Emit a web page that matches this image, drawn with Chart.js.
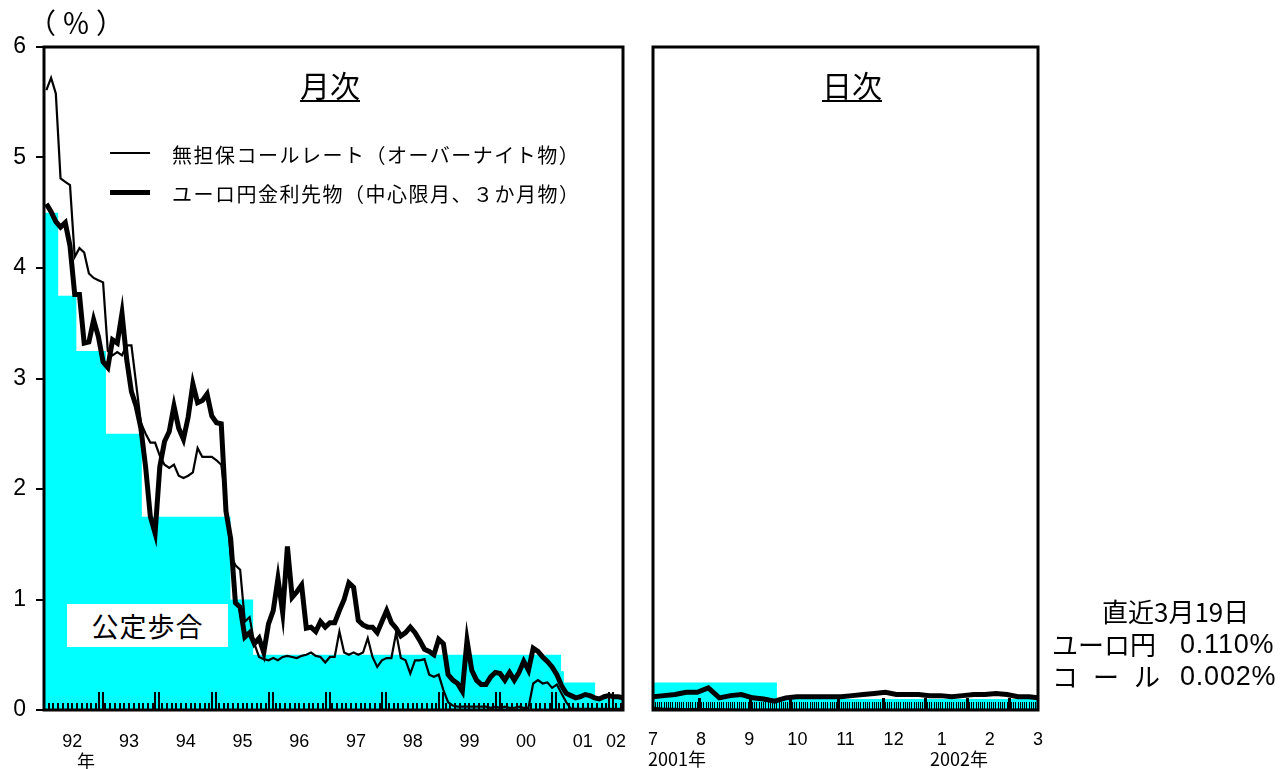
<!DOCTYPE html>
<html lang="ja">
<head>
<meta charset="utf-8">
<title>無担保コールレートとユーロ円金利先物</title>
<script src="https://cdn.jsdelivr.net/npm/chart.js@4.4.0/dist/chart.umd.min.js"></script>
<style>
  body { margin: 0; background: #fff; }
  #wrap { position: relative; width: 1282px; height: 769px; overflow: hidden; background: #fff;
          font-family: "Liberation Sans", "Noto Sans CJK JP", sans-serif; color: #000; }
  canvas { position: absolute; top: 0; }
  #monthly { left: 0; }
  #daily { left: 640px; }
  .t { position: absolute; white-space: pre; line-height: 1; transform: translateY(-50%); }
  .c { transform: translate(-50%, -50%); }
  .jp { font-family: "Noto Sans CJK JP", "Liberation Sans", sans-serif; }
  .title { font-size: 30px; text-decoration: underline; text-decoration-thickness: 2px; text-underline-offset: 3px; }
  .leg { font-size: 20px; letter-spacing: 1.5px; }
  .swatch { position: absolute; background: #000; }
  #odrBox { position: absolute; left: 67px; top: 604px; width: 161px; height: 43px; background: #fff;
            display: flex; align-items: center; justify-content: center; font-size: 27px; letter-spacing: 1px; }
  .note { font-size: 26px; }
  .num { font-size: 27px; letter-spacing: 0.8px; }
</style>
</head>
<body>
<div id="wrap">
  <canvas id="monthly" width="640" height="769"></canvas>
  <canvas id="daily" width="642" height="769"></canvas>

  <div class="t c jp" style="left:79px; top:22px; font-size:28px; letter-spacing:6px;">（％）</div>
  <div class="t c jp title" style="left:330px; top:84px;">月次</div>
  <div class="t c jp title" style="left:852px; top:84px;">日次</div>

  <div class="swatch" style="left:110px; top:152px; width:40px; height:2px;"></div>
  <div class="t jp leg" style="left:172px; top:155px;">無担保コールレート（オーバーナイト物）</div>
  <div class="swatch" style="left:110px; top:190px; width:40px; height:5px;"></div>
  <div class="t jp leg" style="left:172px; top:194px;">ユーロ円金利先物（中心限月、３か月物）</div>

  <div id="odrBox" class="jp">公定歩合</div>

  <div class="t c jp" style="left:86px; top:760px; font-size:18px;">年</div>
  <div class="t c jp" style="left:677px; top:758px; font-size:18px;">2001年</div>
  <div class="t c jp" style="left:959px; top:758px; font-size:18px;">2002年</div>

  <div class="t jp note" style="left:1102px; top:611px;">直近3月19日</div>
  <div class="t jp note" style="left:1052px; top:644px;">ユーロ円</div>
  <div class="t num" style="left:1180px; top:644px;">0.110%</div>
  <div class="t jp note" style="left:1052px; top:676px; letter-spacing:15px;">コール</div>
  <div class="t num" style="left:1180px; top:676px;">0.002%</div>
</div>

<script>
// monthly series, Jan 1992 .. Mar 2002 (one value per month)
const callMonthly = [
  5.61, 5.72, 5.58, 4.81, 4.78, 4.75, 4.10, 4.18, 4.14, 3.95, 3.91, 3.89,
  3.87, 3.25, 3.21, 3.24, 3.21, 3.30, 3.30, 2.95, 2.60, 2.50, 2.42, 2.42,
  2.30, 2.22, 2.19, 2.22, 2.12, 2.10, 2.12, 2.15, 2.37, 2.29, 2.29, 2.29,
  2.26, 2.22, 1.90, 1.40, 1.31, 1.27, 0.80, 0.84, 0.60, 0.48, 0.46, 0.45,
  0.47, 0.45, 0.48, 0.49, 0.48, 0.47, 0.49, 0.50, 0.52, 0.49, 0.48, 0.43,
  0.48, 0.48, 0.71, 0.52, 0.50, 0.52, 0.50, 0.52, 0.65, 0.48, 0.39, 0.45,
  0.47, 0.47, 0.70, 0.47, 0.45, 0.33, 0.45, 0.45, 0.46, 0.32, 0.30, 0.32,
  0.18, 0.07, 0.04, 0.03, 0.03, 0.03, 0.03, 0.03, 0.03, 0.03, 0.02, 0.03,
  0.02, 0.03, 0.02, 0.02, 0.03, 0.02, 0.02, 0.24, 0.27, 0.24, 0.25, 0.20,
  0.23, 0.15, 0.07, 0.01, 0.01, 0.01, 0.01, 0.01, 0.01, 0.01, 0.01, 0.01,
  0.01, 0.01, 0.01
];
const euroyenMonthly = [
  4.58, 4.51, 4.42, 4.37, 4.41, 4.20, 3.76, 3.76, 3.32, 3.33, 3.53, 3.38,
  3.15, 3.10, 3.35, 3.32, 3.59, 3.17, 2.88, 2.75, 2.55, 2.20, 1.75, 1.60,
  2.20, 2.43, 2.52, 2.75, 2.55, 2.45, 2.65, 2.95, 2.78, 2.80, 2.86, 2.66,
  2.60, 2.59, 1.80, 1.55, 0.97, 0.93, 0.66, 0.70, 0.60, 0.65, 0.52, 0.78,
  0.90, 1.19, 0.88, 1.48, 1.02, 1.07, 1.13, 0.74, 0.75, 0.71, 0.80, 0.75,
  0.79, 0.79, 0.90, 1.00, 1.15, 1.11, 0.81, 0.77, 0.75, 0.75, 0.70, 0.80,
  0.90, 0.79, 0.74, 0.67, 0.70, 0.75, 0.70, 0.63, 0.55, 0.53, 0.50, 0.64,
  0.60, 0.32, 0.27, 0.24, 0.17, 0.63, 0.36, 0.27, 0.23, 0.23, 0.30, 0.34,
  0.33, 0.27, 0.34, 0.27, 0.34, 0.44, 0.36, 0.56, 0.53, 0.48, 0.44, 0.39,
  0.32, 0.22, 0.15, 0.13, 0.11, 0.12, 0.14, 0.13, 0.11, 0.10, 0.12, 0.13,
  0.12, 0.12, 0.11
];
// official discount rate steps (month position where each rate starts)
const odrMonthPos   = [0,   3.0,  6.85, 13.1, 20.7, 39.45, 44.25, 109.4, 110.0, 116.6, 122.5];
const odrMonthRates = [4.5, 3.75, 3.25, 2.5,  1.75, 1.0,   0.5,   0.35,  0.25,  0.1,   0.1];
const yearLabels   = ['92','93','94','95','96','97','98','99','00','01','02'];
const yearLabelPos = [6, 18, 30, 42, 54, 66, 78, 90, 102, 114, 121];

// daily series, Jul 2001 .. Mar 19 2002, x = business day count
const bizDaysPerMonth = [21, 23, 18, 22, 20, 19, 19, 19, 13];
const monthLabels = ['7','8','9','10','11','12','1','2','3'];
const dailyPos = [0,5,10,15,20,25,30,35,40,45,50,55,60,65,70,75,80,85,90,95,100,105,110,115,120,125,130,135,140,145,150,155,160,165,170,174];
const euroyenDaily = [0.12,0.13,0.14,0.16,0.16,0.20,0.11,0.13,0.14,0.11,0.10,0.08,0.11,0.12,0.12,0.12,0.12,0.12,0.13,0.14,
                      0.15,0.16,0.14,0.14,0.14,0.13,0.13,0.12,0.13,0.14,0.14,0.15,0.14,0.12,0.12,0.11];
const callDaily = [0.02,0.01,0.01,0.005,0.01,0.005,0.005,0.003,0.002,0.002,0.002,0.002,0.002,0.002,0.002,0.002,0.002,0.002,0.002,0.002,
                   0.002,0.002,0.002,0.002,0.002,0.002,0.002,0.002,0.002,0.002,0.002,0.002,0.002,0.002,0.002,0.002];
const odrDayPos   = [0,    56,  174];
const odrDayRates = [0.25, 0.1, 0.1];

Chart.defaults.font.family = '"Liberation Sans", Arial, sans-serif';
Chart.defaults.color = '#000';

const pts = (xs, ys) => xs.map((x, i) => ({ x: x, y: ys[i] }));
const monthPos = callMonthly.map((v, i) => i + 0.5);

// frame round the plot and small tick marks along the bottom
const framePlugin = {
  id: 'frame',
  afterDatasetsDraw(chart, args, o) {
    const { ctx, chartArea: a, scales: { x } } = chart;
    ctx.save();
    ctx.strokeStyle = '#000';
    const tick = (v, len, w, dx) => {
      let px = x.getPixelForValue(v) + (dx || 0);
      px = w % 2 ? Math.round(px - 0.5) + 0.5 : Math.round(px); // crisp lines
      ctx.lineWidth = w;
      ctx.beginPath();
      ctx.moveTo(px, a.bottom);
      ctx.lineTo(px, a.bottom - len);
      ctx.stroke();
    };
    o.minor.forEach(v => tick(v, o.minorLen, o.minorWidth));
    o.major.forEach(v => {
      if (o.double) { tick(v, o.majorLen, 2, -2); tick(v, o.majorLen, 2, 2); }
      else tick(v, o.majorLen, o.majorWidth);
    });
    ctx.lineWidth = 3;
    ctx.strokeRect(a.left, a.top, a.right - a.left, a.bottom - a.top);
    ctx.restore();
  }
};

// keep the plot edges where they are, whatever the edge labels need
const fitX = s => { s.height = 59; s.paddingLeft = 0; s.paddingRight = 0; };

const monthTicks = [], yearTicks = [];
for (let m = 1; m < 123; m++) (m % 12 === 0 ? yearTicks : monthTicks).push(m);

new Chart(document.getElementById('monthly'), {
  type: 'line',
  data: {
    datasets: [
      { label: 'ユーロ円金利先物（中心限月、３か月物）', data: pts(monthPos, euroyenMonthly),
        borderColor: '#000', borderWidth: 5, pointRadius: 0, tension: 0, order: 1 },
      { label: '無担保コールレート（オーバーナイト物）', data: pts(monthPos, callMonthly),
        borderColor: '#000', borderWidth: 2.2, pointRadius: 0, tension: 0, order: 2 },
      { label: '公定歩合', data: pts(odrMonthPos, odrMonthRates), stepped: 'before', fill: 'origin',
        backgroundColor: '#00ffff', borderWidth: 0, pointRadius: 0, order: 3 }
    ]
  },
  options: {
    responsive: false, animation: false, devicePixelRatio: 1,
    layout: { padding: { top: 47, right: 17, left: 0, bottom: 0 } },
    plugins: {
      legend: { display: false }, tooltip: { enabled: false },
      frame: { minor: monthTicks, major: yearTicks, minorLen: 7, minorWidth: 2, majorLen: 18, double: true }
    },
    scales: {
      x: {
        type: 'linear', min: 0, max: 122.5,
        afterBuildTicks: s => { s.ticks = yearLabelPos.map(v => ({ value: v })); },
        afterFit: fitX,
        ticks: { callback: (v, i) => yearLabels[i], autoSkip: false, maxRotation: 0, font: { size: 18 }, padding: 21 },
        grid: { display: false, drawTicks: false },
        border: { display: false }
      },
      y: {
        min: 0, max: 6,
        afterFit: s => { s.width = 44; },
        ticks: { stepSize: 1, font: { size: 23 }, padding: 10 },
        grid: { drawOnChartArea: false, tickLength: 8, color: '#000', lineWidth: 2 },
        border: { display: false }
      }
    }
  },
  plugins: [framePlugin]
});

const dayTicks = [], monthStart = [];
for (let d = 1; d < 174; d++) dayTicks.push(d);
bizDaysPerMonth.slice(0, -1).reduce((s, n) => { monthStart.push(s + n); return s + n; }, 0);

new Chart(document.getElementById('daily'), {
  type: 'line',
  data: {
    datasets: [
      { label: 'ユーロ円', data: pts(dailyPos, euroyenDaily),
        borderColor: '#000', borderWidth: 5, pointRadius: 0, tension: 0, order: 1 },
      { label: 'コール', data: pts(dailyPos, callDaily),
        borderColor: '#000', borderWidth: 2.2, pointRadius: 0, tension: 0, order: 2 },
      { label: '公定歩合', data: pts(odrDayPos, odrDayRates), stepped: 'before', fill: 'origin',
        backgroundColor: '#00ffff', borderWidth: 0, pointRadius: 0, order: 3 }
    ]
  },
  options: {
    responsive: false, animation: false, devicePixelRatio: 1,
    layout: { padding: { top: 47, right: 244, left: 13, bottom: 0 } },
    plugins: {
      legend: { display: false }, tooltip: { enabled: false },
      frame: { minor: dayTicks, major: monthStart, minorLen: 8, minorWidth: 1, majorLen: 12, majorWidth: 3, double: false }
    },
    scales: {
      x: {
        type: 'linear', min: 0, max: 174,
        afterBuildTicks: s => { s.ticks = monthLabels.map((l, k) => ({ value: k * 174 / 8 })); },
        afterFit: fitX,
        ticks: { callback: (v, i) => monthLabels[i], autoSkip: false, maxRotation: 0, font: { size: 18 }, padding: 19 },
        grid: { display: false, drawTicks: false },
        border: { display: false }
      },
      y: { min: 0, max: 6, display: false }
    }
  },
  plugins: [framePlugin]
});
</script>
</body>
</html>
